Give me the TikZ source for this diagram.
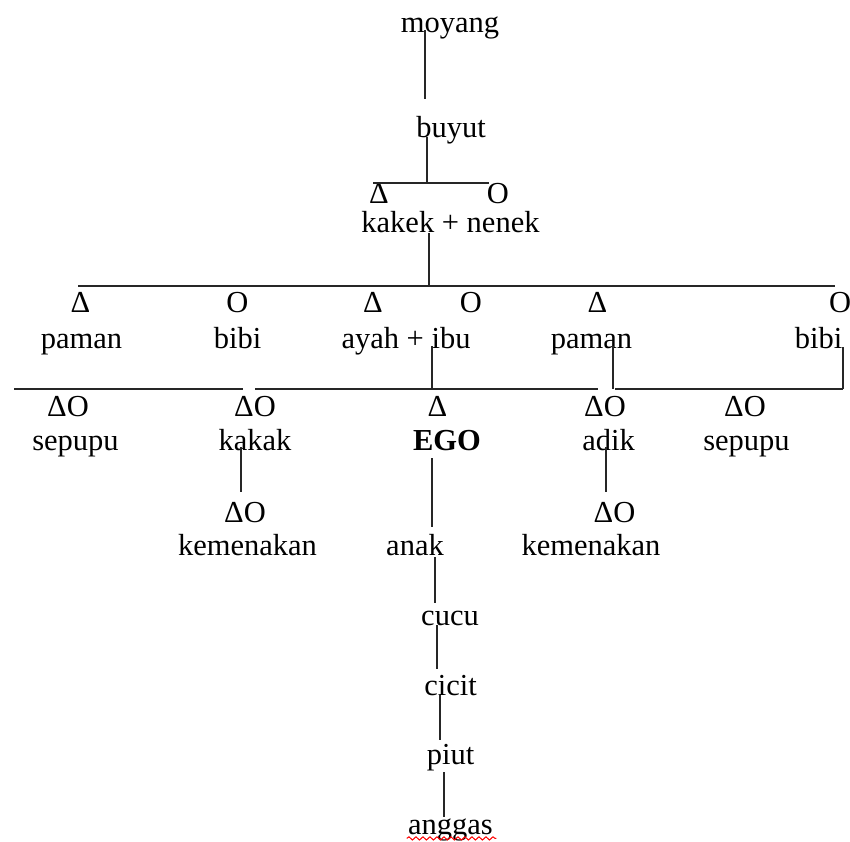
\documentclass[tikz,border=0pt]{standalone}
\usepackage{fontspec}
\setmainfont{Liberation Serif}
\usetikzlibrary{decorations.pathmorphing}

\tikzset{
  lbl/.style={anchor=base,inner sep=0pt},
  link/.style={line width=0.6pt,black!85},
  typo/.style={red,line width=0.5pt,decorate,decoration={snake,amplitude=0.8pt,segment length=3.5pt}},
}

\begin{document}
\begin{tikzpicture}[x=0.5pt,y=-0.5pt,font=\fontsize{15.25}{18}\selectfont]
	\useasboundingbox (0,0) rectangle (850,841);
	% ancestors
	\node[lbl] (moyang) at (450,32) {moyang};
	\node[lbl] (buyut) at (451,137) {buyut};
	\node[lbl] (kakek sym) at (379,203) {Δ};
	\node[lbl] (nenek sym) at (498,203) {O};
	\node[lbl] (kakek) at (450.5,232) {kakek + nenek};
	% generation of the parents
	\node[lbl] (paman1 sym) at (80.5,312) {Δ};
	\node[lbl] (bibi1 sym) at (237.5,312) {O};
	\node[lbl] (ayah sym) at (373,312) {Δ};
	\node[lbl] (ibu sym) at (471,312) {O};
	\node[lbl] (paman2 sym) at (597.5,312) {Δ};
	\node[lbl] (bibi2 sym) at (840,312) {O};
	\node[lbl] (paman1) at (81.5,348) {paman};
	\node[lbl] (bibi1) at (237.5,348) {bibi};
	\node[lbl] (ayah) at (406,348) {ayah + ibu};
	\node[lbl] (paman2) at (591.5,348) {paman};
	\node[lbl] (bibi2) at (818.5,348) {bibi};
	% generation of EGO
	\node[lbl] (sepupu1 sym) at (68,416) {ΔO};
	\node[lbl] (kakak sym) at (255,416) {ΔO};
	\node[lbl] (ego sym) at (437.5,416) {Δ};
	\node[lbl] (adik sym) at (605,416) {ΔO};
	\node[lbl] (sepupu2 sym) at (745,416) {ΔO};
	\node[lbl] (sepupu1) at (75.5,450) {sepupu};
	\node[lbl] (kakak) at (255,450) {kakak};
	\node[lbl] (ego) at (447,450) {\textbf{EGO}};
	\node[lbl] (adik) at (608.5,450) {adik};
	\node[lbl] (sepupu2) at (746.5,450) {sepupu};
	% descendants
	\node[lbl] (kemenakan1 sym) at (245,522) {ΔO};
	\node[lbl] (adik2 sym) at (614.5,522) {ΔO};
	\node[lbl] (kemenakan1) at (247.5,555) {kemenakan};
	\node[lbl] (anak) at (415,555) {anak};
	\node[lbl] (kemenakan2) at (591,555) {kemenakan};
	\node[lbl] (cucu) at (450,625) {cucu};
	\node[lbl] (cicit) at (450.5,695) {cicit};
	\node[lbl] (piut) at (450.5,764) {piut};
	\node[lbl] (anggas) at (450.5,834) {anggas};
	\draw[typo] ([xshift=-0.5pt,yshift=-2.2pt]anggas.base west) -- ([xshift=1.5pt,yshift=-2.2pt]anggas.base east);
	% vertical links
	\foreach \n/\x/\ya/\yb in {moyang/425/30/99, buyut/427/137/183, kakek/429/233/286,
		ayah/432/346/389, paman2/613/346/389, bibi2/843/347/389,
		kakak/241/447/492, ego/432/458/527, adik/606/447/492,
		anak/435/557/603, cucu/437/625/669, cicit/440/695/740, piut/444/772/817}{
		\coordinate (\n-top) at (\x,\ya);
		\coordinate (\n-bot) at (\x,\yb);
		\draw[link] (\n-top) -- (\n-bot);
	}
	% horizontal links
	\foreach \n/\xa/\xb/\y in {kk/373/489/183, parents/78/835/286,
		sepupu1/14/243/389, siblings/255/598/389, sepupu2/615/843/389}{
		\coordinate (\n-left) at (\xa,\y);
		\coordinate (\n-right) at (\xb,\y);
		\draw[link] (\n-left) -- (\n-right);
	}
\end{tikzpicture}
\end{document}
